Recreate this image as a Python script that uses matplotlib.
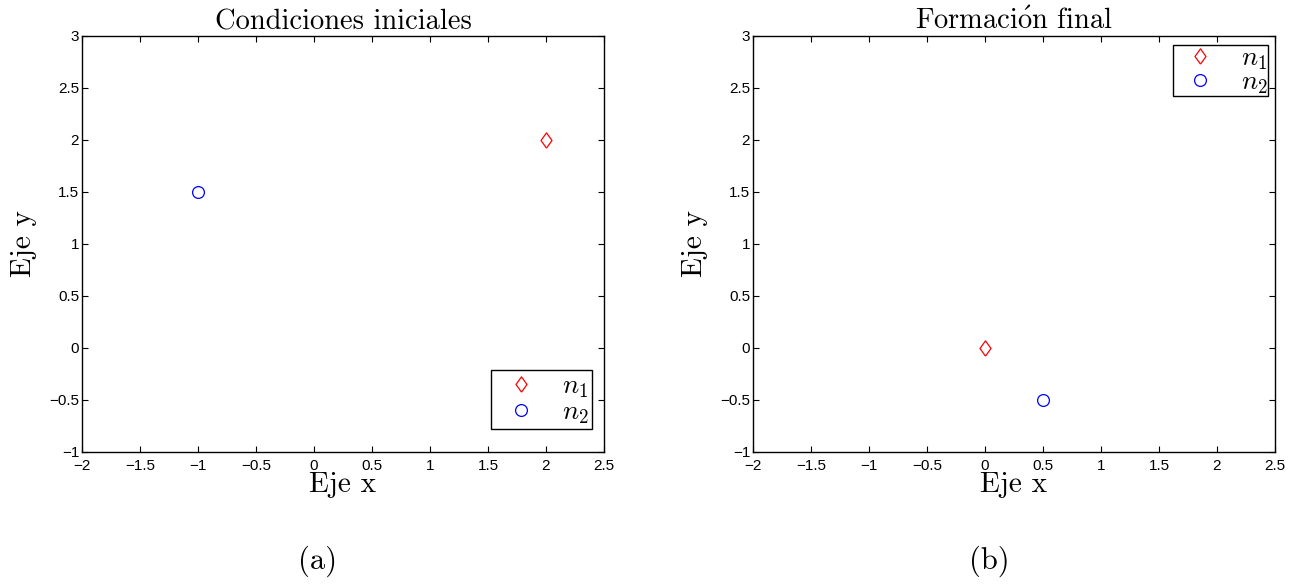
import matplotlib.pyplot as plt

# posiciones de los nodos
x_ini = [2, -1]
y_ini = [2, 1.5]
x_fin = [0, 0.5]
y_fin = [0, -0.5]
nombres = ['$n_1$', '$n_2$']
titulos = ['Condiciones iniciales', r'Formaci$\mathrm{\acute{o}}$n final']
letras = ['(a)', '(b)']
xticks = [-2, -1.5, -1, -0.5, 0, 0.5, 1, 1.5, 2, 2.5]
yticks = [-1, -0.5, 0, 0.5, 1, 1.5, 2, 2.5, 3]

plt.rcParams['mathtext.fontset'] = 'cm'
plt.rcParams['font.family'] = 'Liberation Sans'

rombo = [(0, -1), (0.72, 0), (0, 1), (-0.72, 0), (0, -1)]

fig = plt.figure(figsize=(13.03, 5.85), dpi=100)
ax1 = fig.add_axes([0.0629, 0.2274, 0.4006, 0.7111])
ax2 = fig.add_axes([0.5779, 0.2274, 0.4006, 0.7111])

serif = 'cmr10'
datos = [(ax1, x_ini, y_ini, 'lower right', (0.977, 0.055), -0.02, 0.12),
         (ax2, x_fin, y_fin, 'upper right', (0.986, 0.978), -0.08, 0.0)]
for k, (ax, xs, ys, loc, anchor, esp, bp) in enumerate(datos):
    ax.plot(xs[0], ys[0], marker=rombo, ls='none', mfc='none', mec='red', ms=11, mew=0.9, label=nombres[0])
    ax.plot(xs[1], ys[1], 'o', mfc='none', mec='blue', ms=8.5, mew=0.9, label=nombres[1])
    ax.set_xlim(-2, 2.5)
    ax.set_ylim(-1, 3)
    ax.set_xticks(xticks)
    ax.set_yticks(yticks)
    ax.set_xticklabels([f'{t:g}'.replace('-', '\u2212') for t in xticks])
    ax.set_yticklabels([f'{t:g}'.replace('-', '\u2212') for t in yticks])
    ax.tick_params(direction='in', top=True, right=True, labelsize=11, length=4.5, width=0.8)
    ax.tick_params(axis='x', pad=5)
    ax.tick_params(axis='y', pad=2)
    for s in ax.spines.values():
        s.set_linewidth(1.0)
    ax.set_title(titulos[k], fontfamily=serif, fontsize=20.5, pad=5)
    ax.set_xlabel('Eje x', fontfamily=serif, fontsize=21, labelpad=-1)
    ax.set_ylabel('Eje y', fontfamily=serif, fontsize=21, labelpad=9)
    leg = ax.legend(loc=loc, bbox_to_anchor=anchor, fontsize=19.5, fancybox=False, framealpha=1,
                    edgecolor='black', borderpad=bp, handletextpad=0.5, labelspacing=esp,
                    borderaxespad=0, handlelength=2.0)
    leg.get_frame().set_linewidth(1.0)
    fig.text(ax.get_position().x0 + 0.4006 * 0.452, 0.028, letras[k], fontfamily=serif,
             fontsize=22, ha='center')

fig.savefig('out.png', dpi=100)
